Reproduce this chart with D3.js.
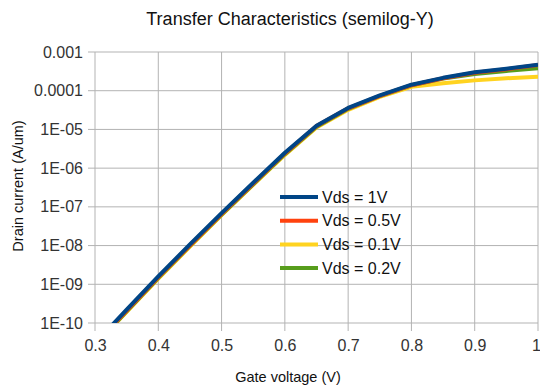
<!DOCTYPE html>
<html>
<head>
<meta charset="utf-8">
<script src="https://cdn.jsdelivr.net/npm/d3@7"></script>
<style>
  body { margin: 0; background: #fff; }
  svg { display: block; font-family: "Liberation Sans", Arial, sans-serif; }
</style>
</head>
<body>
<svg></svg>
<script>
// gate voltage sweep (V)
const vgs = [0.30, 0.35, 0.40, 0.45, 0.50, 0.55, 0.60, 0.65, 0.70, 0.75, 0.80, 0.85, 0.90, 0.95, 1.00];

// drain current (A/um) per Vds
const id1V  = [3.0e-11, 2.2e-10, 1.6e-9, 1.07e-8, 6.9e-8, 4.2e-7, 2.5e-6, 1.25e-5, 3.6e-5, 7.6e-5, 1.43e-4, 2.15e-4, 3.0e-4, 3.7e-4, 4.7e-4];
const id05V = [2.85e-11, 2.1e-10, 1.53e-9, 1.02e-8, 6.6e-8, 4.0e-7, 2.4e-6, 1.22e-5, 3.5e-5, 7.4e-5, 1.39e-4, 2.1e-4, 2.92e-4, 3.6e-4, 4.6e-4];
const id01V = [2.65e-11, 1.95e-10, 1.41e-9, 9.4e-9, 6.1e-8, 3.7e-7, 2.2e-6, 1.12e-5, 3.2e-5, 6.9e-5, 1.26e-4, 1.55e-4, 1.85e-4, 2.1e-4, 2.3e-4];
const id02V = [2.75e-11, 2.0e-10, 1.47e-9, 9.8e-9, 6.3e-8, 3.85e-7, 2.3e-6, 1.18e-5, 3.4e-5, 7.3e-5, 1.38e-4, 2.05e-4, 2.7e-4, 3.25e-4, 3.8e-4];

const seriesNames = ["Vds = 1V", "Vds = 0.5V", "Vds = 0.1V", "Vds = 0.2V"];
const seriesData = [id1V, id05V, id01V, id02V];
const colors = ["#004586", "#ff420e", "#ffd320", "#579d1c"];

const xTicks = [0.3, 0.4, 0.5, 0.6, 0.7, 0.8, 0.9, 1];
const xTickLabels = ["0.3", "0.4", "0.5", "0.6", "0.7", "0.8", "0.9", "1"];
const yTicks = [1e-3, 1e-4, 1e-5, 1e-6, 1e-7, 1e-8, 1e-9, 1e-10];
const yTickLabels = ["0.001", "0.0001", "1E-05", "1E-06", "1E-07", "1E-08", "1E-09", "1E-10"];

const svgWidth = 540;
const svgHeight = 389;
const svg = d3.select("svg")
    .attr("width", svgWidth)
    .attr("height", svgHeight);

const margin = {top: 52, right: 2, bottom: 66, left: 95};
const width = svgWidth - margin.left - margin.right;
const height = svgHeight - margin.top - margin.bottom;

const g = svg.append("g")
    .attr("transform", "translate(" + margin.left + "," + margin.top + ")");

const x = d3.scaleLinear().domain([0.3, 1]).range([0, width]);
const y = d3.scaleLog().domain([1e-10, 1e-3]).range([height, 0]);

// gridlines
g.append("g")
    .selectAll("line.h")
    .data(yTicks)
    .enter().append("line")
    .attr("x1", -7).attr("x2", width)
    .attr("y1", d => y(d)).attr("y2", d => y(d))
    .attr("stroke", "#b3b3b3");

g.append("g")
    .selectAll("line.v")
    .data(xTicks)
    .enter().append("line")
    .attr("x1", d => x(d)).attr("x2", d => x(d))
    .attr("y1", 0).attr("y2", height + 8)
    .attr("stroke", "#b3b3b3");

// axes labels
const yAxis = g.append("g")
    .call(d3.axisLeft(y).tickValues(yTicks).tickSize(0).tickPadding(12)
        .tickFormat((d, i) => yTickLabels[i]));
yAxis.select(".domain").remove();
yAxis.selectAll("text").attr("font-size", 16).attr("fill", "#333")
    .attr("font-family", "Liberation Sans, Arial, sans-serif");

const xAxis = g.append("g")
    .attr("transform", "translate(0," + height + ")")
    .call(d3.axisBottom(x).tickValues(xTicks).tickSize(0).tickPadding(17)
        .tickFormat((d, i) => xTickLabels[i]));
xAxis.select(".domain").remove();
xAxis.selectAll("text").attr("font-size", 16).attr("fill", "#333")
    .attr("font-family", "Liberation Sans, Arial, sans-serif");
xAxis.selectAll("text").filter((d, i) => i === xTicks.length - 1).attr("dx", "-2");

// curves
svg.append("defs").append("clipPath").attr("id", "plot")
    .append("rect").attr("width", width).attr("height", height);

const line = d3.line()
    .x((d, i) => x(vgs[i]))
    .y(d => y(d));

const drawOrder = [2, 3, 1, 0]; // blue ends up on top
g.append("g")
    .attr("clip-path", "url(#plot)")
    .selectAll("path")
    .data(drawOrder)
    .enter().append("path")
    .attr("d", k => line(seriesData[k]))
    .attr("fill", "none")
    .attr("stroke", k => colors[k])
    .attr("stroke-width", 4)
    .attr("stroke-linejoin", "round");

// legend
const legend = g.append("g")
    .selectAll("g")
    .data(seriesNames)
    .enter().append("g")
    .attr("transform", (d, i) => "translate(185," + (145 + i * 23.7) + ")");

legend.append("line")
    .attr("x1", 0).attr("x2", 38)
    .attr("stroke", (d, i) => colors[i])
    .attr("stroke-width", 4);

legend.append("text")
    .attr("x", 42)
    .attr("dy", "0.35em")
    .attr("font-size", 16)
    .attr("fill", "#111")
    .text(d => d);

// titles
svg.append("text")
    .attr("x", 290).attr("y", 25)
    .attr("text-anchor", "middle")
    .attr("font-size", 18)
    .attr("fill", "#111")
    .text("Transfer Characteristics (semilog-Y)");

svg.append("text")
    .attr("x", 288).attr("y", 382)
    .attr("text-anchor", "middle")
    .attr("font-size", 14.5)
    .attr("fill", "#111")
    .text("Gate voltage (V)");

svg.append("text")
    .attr("transform", "translate(23,186) rotate(-90)")
    .attr("text-anchor", "middle")
    .attr("font-size", 14.5)
    .attr("fill", "#111")
    .text("Drain current (A/um)");
</script>
</body>
</html>
